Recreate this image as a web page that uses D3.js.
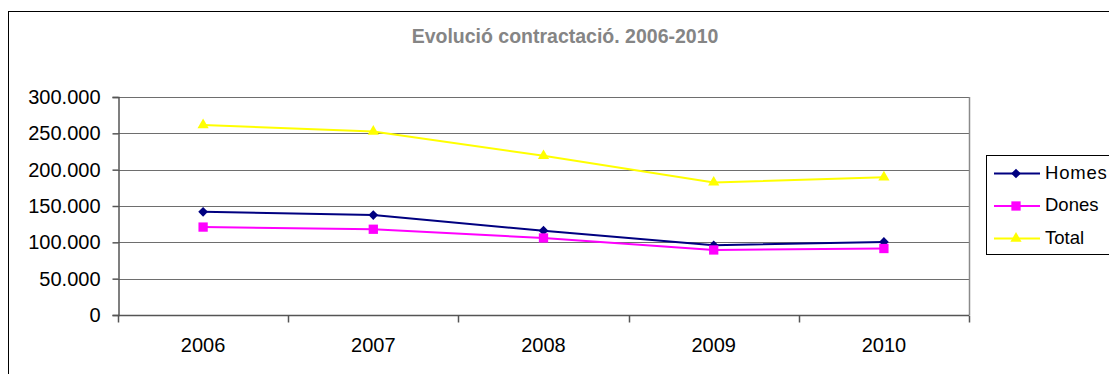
<!DOCTYPE html>
<html>
<head>
<meta charset="utf-8">
<script src="https://cdn.jsdelivr.net/npm/d3@7"></script>
<style>
  html, body { margin: 0; padding: 0; background: #fff; overflow: hidden; }
  svg { display: block; font-family: "Liberation Sans", Arial, sans-serif; }
</style>
</head>
<body>
<svg id="chart" width="1109" height="374"></svg>
<script>
// Hiring figures by year
const years = ["2006", "2007", "2008", "2009", "2010"];
const homes = [142000, 137500, 116000, 96000, 100500];
const dones = [121000, 118000, 106000, 89500, 91500];
const total = [261500, 252500, 219000, 182500, 189500];
const yTicks = [0, 50000, 100000, 150000, 200000, 250000, 300000];
const seriesNames = ["Homes", "Dones", "Total"];
const seriesColors = ["#000080", "#ff00ff", "#ffff00"];
const seriesSymbols = [d3.symbolDiamond2, d3.symbolSquare2, d3.symbolTriangle2];
const symbolSizes = [60, 110, 90];

const svg = d3.select("#chart");

// Outer chart frame
svg.append("rect")
  .attr("x", 8.5).attr("y", 11.5)
  .attr("width", 1200).attr("height", 400)
  .attr("fill", "#fff").attr("stroke", "#000").attr("stroke-width", 1);

// Title
svg.append("text")
  .attr("x", 565).attr("y", 42.5)
  .attr("text-anchor", "middle")
  .attr("font-size", 19.5).attr("font-weight", "bold")
  .attr("fill", "#858585")
  .text("Evolució contractació. 2006-2010");

const plot = { left: 118, right: 969, top: 97, bottom: 315 };

const x = d3.scaleBand().domain(years).range([plot.left, plot.right]);
const y = d3.scaleLinear().domain([0, 300000]).range([plot.bottom, plot.top]);

const fmt = v => d3.format(",")(v).replace(/,/g, ".");

// Horizontal gridlines
svg.append("g").selectAll("line")
  .data(yTicks.filter(t => t > 0))
  .join("line")
  .attr("x1", plot.left).attr("x2", plot.right)
  .attr("y1", d => Math.round(y(d)) + 0.5).attr("y2", d => Math.round(y(d)) + 0.5)
  .attr("stroke", "#6e6e6e").attr("stroke-width", 1.2);

// Right edge of plot area
svg.append("line")
  .attr("x1", plot.right + 0.5).attr("x2", plot.right + 0.5)
  .attr("y1", plot.top).attr("y2", plot.bottom)
  .attr("stroke", "#8a8a8a").attr("stroke-width", 1.5);

// Y axis
const yAxis = svg.append("g")
  .attr("transform", `translate(${plot.left + 0.5},0)`)
  .call(d3.axisLeft(y).tickValues(yTicks).tickFormat(fmt).tickSize(6).tickPadding(12));
yAxis.select(".domain").attr("stroke", "#555").attr("stroke-width", 1.5);
yAxis.selectAll(".tick line").attr("stroke", "#555").attr("stroke-width", 1.5);
yAxis.selectAll("text").attr("font-size", 20).attr("fill", "#000")
  .attr("font-family", "'Liberation Sans', Arial, sans-serif");

// X axis with ticks on category boundaries
const xg = svg.append("g").attr("transform", `translate(0,${plot.bottom + 0.5})`);
xg.append("line")
  .attr("x1", plot.left).attr("x2", plot.right)
  .attr("stroke", "#555").attr("stroke-width", 1.5);
const bounds = years.map(d => x(d)).concat([plot.right]);
xg.selectAll("line.tk").data(bounds).join("line").attr("class", "tk")
  .attr("x1", d => Math.round(d) + 0.5).attr("x2", d => Math.round(d) + 0.5)
  .attr("y1", 0).attr("y2", 7)
  .attr("stroke", "#555").attr("stroke-width", 1.5);
xg.selectAll("text").data(years).join("text")
  .attr("x", d => x(d) + x.bandwidth() / 2)
  .attr("y", 36.5)
  .attr("text-anchor", "middle")
  .attr("font-size", 20).attr("fill", "#000")
  .text(d => d);

// Series lines and markers
const series = [homes, dones, total];
const line = d3.line()
  .x((d, i) => x(years[i]) + x.bandwidth() / 2)
  .y(d => y(d));

series.forEach((vals, si) => {
  const g = svg.append("g");
  g.append("path")
    .datum(vals)
    .attr("d", line)
    .attr("fill", "none")
    .attr("stroke", seriesColors[si])
    .attr("stroke-width", 2);
  g.selectAll("path.m").data(vals).join("path").attr("class", "m")
    .attr("transform", (d, i) => `translate(${x(years[i]) + x.bandwidth() / 2},${y(d)})`)
    .attr("d", d3.symbol().type(seriesSymbols[si]).size(symbolSizes[si]))
    .attr("fill", seriesColors[si]);
});

// Legend
const lg = svg.append("g");
lg.append("rect")
  .attr("x", 986.5).attr("y", 155.5)
  .attr("width", 200).attr("height", 99)
  .attr("fill", "#fff").attr("stroke", "#000").attr("stroke-width", 1);
seriesNames.forEach((name, i) => {
  const cy = 173.5 + i * 32.5;
  lg.append("line")
    .attr("x1", 994).attr("x2", 1040)
    .attr("y1", cy).attr("y2", cy)
    .attr("stroke", seriesColors[i]).attr("stroke-width", 2);
  lg.append("path")
    .attr("transform", `translate(1016,${cy})`)
    .attr("d", d3.symbol().type(seriesSymbols[i]).size(symbolSizes[i]))
    .attr("fill", seriesColors[i]);
  lg.append("text")
    .attr("x", 1045).attr("y", cy + 5)
    .attr("font-size", 18.5).attr("fill", "#000")
    .attr("letter-spacing", i === 0 ? 0.8 : 0)
    .text(name);
});
</script>
</body>
</html>
